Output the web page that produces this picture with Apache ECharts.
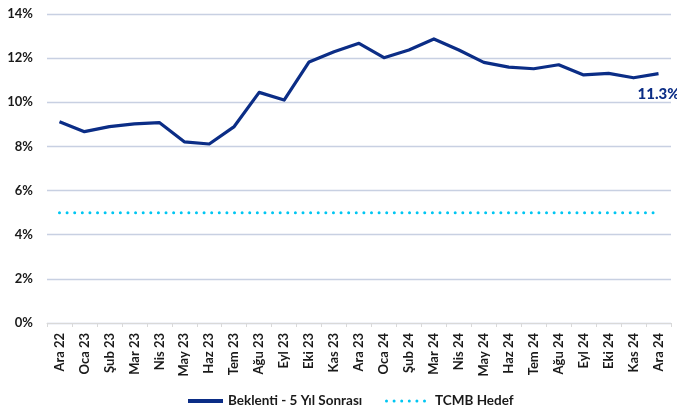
<!DOCTYPE html>
<html>
<head>
<meta charset="utf-8">
<script src="https://cdn.jsdelivr.net/npm/echarts@6/dist/echarts.min.js"></script>
<style>
  html, body { margin: 0; padding: 0; background: #fff; }
  #chart { width: 677px; height: 412px; }
</style>
</head>
<body>
<div id="chart"></div>
<script>
const months = [
  'Ara 22', 'Oca 23', 'Şub 23', 'Mar 23', 'Nis 23', 'May 23', 'Haz 23', 'Tem 23',
  'Ağu 23', 'Eyl 23', 'Eki 23', 'Kas 23', 'Ara 23', 'Oca 24', 'Şub 24', 'Mar 24',
  'Nis 24', 'May 24', 'Haz 24', 'Tem 24', 'Ağu 24', 'Eyl 24', 'Eki 24', 'Kas 24', 'Ara 24'
]

// 5 yıl sonrası enflasyon beklentisi (%)
const expectation = [
  9.12, 8.67, 8.90, 9.02, 9.08, 8.21, 8.11, 8.90,
  10.45, 10.10, 11.83, 12.29, 12.67, 12.02, 12.37, 12.87,
  12.37, 11.81, 11.59, 11.52, 11.70, 11.24, 11.31, 11.11, 11.3
]

// TCMB hedefi (%)
const target = months.map(() => 5)

const yTicks = { min: 0, max: 14, interval: 2 }

const navy = '#0b2d86'
const cyan = '#00c6f2'
const textColor = '#1a1a1a'
const font = 'Lato, "Open Sans", sans-serif'

// legend icons: solid bar and a row of six dots
const solidIcon = 'path://M0,0L35,0L35,4L0,4Z'
let dotIcon = 'path://'
for (let i = 0; i < 6; i++) {
  const x = i * 7.6
  dotIcon += `M${x},1.5a1.5,1.5 0 1,0 3,0a1.5,1.5 0 1,0 -3,0`
}

const legendText = { color: textColor, fontSize: 13.5, fontWeight: 'bold', fontFamily: font }

const chart = echarts.init(document.getElementById('chart'))

chart.setOption({
  animation: false,
  textStyle: { fontFamily: font },
  grid: { left: 47, right: 6, top: 14, bottom: 89 },
  legend: [
    {
      left: 188,
      top: 394,
      padding: 0,
      itemWidth: 35,
      itemHeight: 4,
      itemGap: 0,
      textStyle: legendText,
      data: [{ name: 'Beklenti - 5 Yıl Sonrası', icon: solidIcon, itemStyle: { color: navy } }]
    },
    {
      left: 385,
      top: 394,
      padding: 0,
      itemWidth: 41,
      itemHeight: 3,
      itemGap: 0,
      textStyle: { ...legendText, padding: [0, 0, 0, 4] },
      data: [{ name: 'TCMB Hedef', icon: dotIcon, itemStyle: { color: cyan } }]
    }
  ],
  xAxis: {
    type: 'category',
    data: months,
    boundaryGap: true,
    axisLine: { lineStyle: { color: '#d9d9d9', width: 1 } },
    axisTick: { show: true, length: 4, lineStyle: { color: '#d9d9d9' } },
    axisLabel: {
      interval: 0,
      rotate: 90,
      margin: 10,
      color: textColor,
      fontSize: 13,
      fontWeight: 'bold',
      fontFamily: font
    }
  },
  yAxis: {
    type: 'value',
    min: yTicks.min,
    max: yTicks.max,
    interval: yTicks.interval,
    axisLine: { show: false },
    axisTick: { show: false },
    axisLabel: {
      formatter: '{value}%',
      color: textColor,
      fontSize: 13,
      fontWeight: 'bold',
      fontFamily: font,
      margin: 14
    },
    splitLine: { lineStyle: { color: '#c8d0e2', width: 1.3 } }
  },
  series: [
    {
      name: 'Beklenti - 5 Yıl Sonrası',
      type: 'line',
      data: expectation,
      showSymbol: false,
      symbol: 'none',
      lineStyle: { color: navy, width: 3.2, join: 'round' },
      itemStyle: { color: navy },
      endLabel: {
        show: true,
        formatter: p => p.value.toFixed(1) + '%',
        align: 'center',
        verticalAlign: 'middle',
        distance: 0,
        offset: [0, 21],
        color: navy,
        fontFamily: font,
        fontWeight: 900,
        fontSize: 15
      },
      z: 3
    },
    {
      name: 'TCMB Hedef',
      type: 'line',
      data: target,
      showSymbol: false,
      symbol: 'none',
      lineStyle: { color: cyan, width: 3, type: [0.01, 7.6], cap: 'round' },
      itemStyle: { color: cyan },
      z: 2
    }
  ]
})
</script>
</body>
</html>
